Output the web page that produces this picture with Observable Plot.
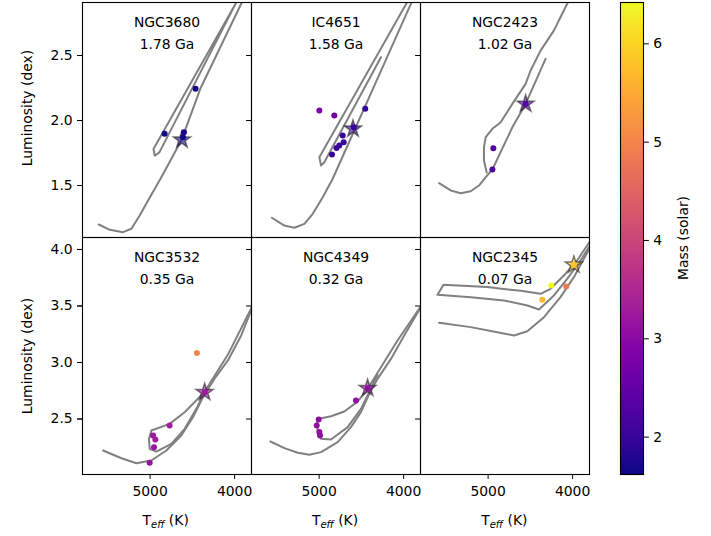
<!DOCTYPE html>
<html><head><meta charset="utf-8">
<script src="https://cdn.jsdelivr.net/npm/d3@7"></script>
<script src="https://cdn.jsdelivr.net/npm/@observablehq/plot@0.6"></script>
<style>
body{margin:0;background:#fff;}
#fig{position:relative;width:711px;height:536px;background:#fff;font-family:"DejaVu Sans",sans-serif;font-size:13.9px;color:#000;overflow:hidden}
.abs{position:absolute}
.ylab{position:absolute;white-space:nowrap;transform:translate(-50%,-50%) rotate(-90deg)}
.xlab{position:absolute;white-space:nowrap;transform:translate(-50%,-50%)}
</style></head><body>
<div id="fig">
 <div id="row1" class="abs" style="left:0;top:0"></div>
 <div id="row2" class="abs" style="left:0;top:237px"></div>
 <div id="cbar" class="abs" style="left:580px;top:0"></div>
</div>
<script>
// ---- categories ----
const clusters = ["NGC3680","IC4651","NGC2423","NGC3532","NGC4349","NGC2345"];
const ages = ["1.78 Ga","1.58 Ga","1.02 Ga","0.35 Ga","0.32 Ga","0.07 Ga"];

// ---- isochrone tracks (Teff K, log L) ----
const isoTeff_NGC3680 = [
  [5607,5478,5319,5221,5123,5024,4867,4631,4406,3922,3855],
  [3900,4960,4945,4890,3940]
];
const isoLum_NGC3680 = [
  [1.20,1.159,1.141,1.167,1.269,1.385,1.564,1.846,2.244,2.898,2.99],
  [3.0,1.78,1.73,1.755,2.96]
];
const isoTeff_IC4651 = [
  [5559,5411,5293,5174,5075,4957,4839,4700,4400,3914,3850],
  [3880,4997,4977,4938,4268]
];
const isoLum_IC4651 = [
  [1.252,1.192,1.175,1.205,1.282,1.41,1.552,1.754,2.19,2.898,2.99],
  [3.0,1.718,1.654,1.679,2.487]
];
const isoTeff_NGC2423 = [
  [5580,5442,5324,5206,5108,5028,4949,4713,4556,4320],
  [5017,5049,5049,5028,4949,4851,4713,4556,4497,4379,4222,4104,4064,3990]
];
const isoLum_NGC2423 = [
  [1.518,1.462,1.441,1.456,1.50,1.564,1.623,1.948,2.128,2.475],
  [1.60,1.692,1.795,1.872,1.936,1.987,2.128,2.282,2.385,2.538,2.692,2.846,2.898,3.0]
];
const isoTeff_NGC3532 = [
  [5556,5339,5162,4985,4808,4631,4493,4375,4237,4079,3922,3804,3760],
  [3790,4079,4355,4591,4769,4985,5013,5005,4926,4749,4591,4453,4355]
];
const isoLum_NGC3532 = [
  [2.221,2.153,2.109,2.133,2.221,2.354,2.516,2.693,2.856,3.018,3.239,3.46,3.55],
  [3.50,3.07,2.74,2.560,2.457,2.398,2.325,2.236,2.212,2.280,2.413,2.590,2.74]
];
const isoTeff_NGC4349 = [
  [5576,5410,5253,5115,4977,4780,4623,4505,4406,4308,4150,3993,3796,3760],
  [3776,4072,4328,4446,4552,4702,4859,4977,5024,5017,4977,4859,4662,4505,4308]
];
const isoLum_NGC4349 = [
  [2.301,2.242,2.201,2.183,2.207,2.295,2.428,2.561,2.723,2.855,3.032,3.239,3.49,3.54],
  [3.519,3.195,2.885,2.743,2.649,2.566,2.525,2.507,2.472,2.383,2.325,2.319,2.428,2.590,2.891]
];
const isoTeff_NGC2345 = [
  [5580,5206,4891,4694,4536,4339,4143,3985,3867,3769],
  [3749,3946,4103,4261,4379,4615,5009,5528,5599,5206,4812,4536,4398,4221,4064,3906,3769]
];
const isoLum_NGC2345 = [
  [3.351,3.313,3.268,3.239,3.277,3.401,3.578,3.755,3.917,4.05],
  [4.124,3.903,3.770,3.652,3.608,3.634,3.667,3.687,3.599,3.578,3.549,3.504,3.469,3.593,3.740,3.903,4.065]
];
const isoTeff = [isoTeff_NGC3680, isoTeff_IC4651, isoTeff_NGC2423, isoTeff_NGC3532, isoTeff_NGC4349, isoTeff_NGC2345];
const isoLum  = [isoLum_NGC3680, isoLum_IC4651, isoLum_NGC2423, isoLum_NGC3532, isoLum_NGC4349, isoLum_NGC2345];

// ---- cluster member giants ----
const starCluster = [
  "NGC3680","NGC3680","NGC3680","NGC3680",
  "IC4651","IC4651","IC4651","IC4651","IC4651","IC4651","IC4651","IC4651","IC4651",
  "NGC2423","NGC2423","NGC2423",
  "NGC3532","NGC3532","NGC3532","NGC3532","NGC3532","NGC3532","NGC3532",
  "NGC4349","NGC4349","NGC4349","NGC4349","NGC4349","NGC4349",
  "NGC2345","NGC2345","NGC2345","NGC2345"
];
const starTeff = [
  4462,4828,4599,4611,
  4997,4820,4454,4591,4721,4709,4761,4794,4847,
  4938,4949,4556,
  4446,4769,4965,4938,4954,5005,4355,
  4564,5005,5028,4997,4989,4426,
  4253,4359,4076,3985
];
const starLum = [
  2.244,1.898,1.91,1.872,
  2.077,2.038,2.09,1.948,1.885,1.833,1.808,1.788,1.738,
  1.787,1.623,2.128,
  3.085,2.443,2.354,2.319,2.251,2.112,2.737,
  2.664,2.496,2.443,2.384,2.354,2.773,
  3.681,3.555,3.673,3.864
];
const starMass = [
  1.68,1.65,1.7,1.66,
  2.75,2.65,1.95,2.0,1.98,2.02,1.96,2.0,1.97,
  2.3,2.32,2.3,
  5.0,3.3,3.25,3.3,3.2,3.15,3.25,
  3.1,3.05,3.1,3.1,3.05,3.1,
  6.42,5.7,4.85,5.85
];
// ---- highlighted (star-symbol) giant per cluster ----
const refTeff = [4623,4599,4556,4355,4426,3985];
const refLum  = [1.852,1.936,2.128,2.737,2.773,3.864];
const refMass = [1.7,2.0,2.3,3.25,3.1,5.85];

const massDomain = [1.62, 6.42];
const yTicksTop = [1.5,2.0,2.5];
const yTicksBottom = [2.5,3.0,3.5,4.0];
const xTicks = [5000,4000];
const cbarTicks = [2,3,4,5,6];

// ---- build tables ----
const trackRows = [];
clusters.forEach((c, ci) => {
  isoTeff[ci].forEach((seg, si) => {
    seg.forEach((t, i) => trackRows.push({cluster: c, seg: c + "-" + si, teff: t, lum: isoLum[ci][si][i]}));
  });
});
const starRows = starCluster.map((c, i) => ({cluster: c, teff: starTeff[i], lum: starLum[i], mass: starMass[i]}));
const refRows = clusters.map((c, i) => ({cluster: c, teff: refTeff[i], lum: refLum[i], mass: refMass[i]}));
const titleRows = clusters.map((c, i) => ({cluster: c, label: c + "\n" + ages[i]}));

const baseStyle = {fontFamily: "DejaVu Sans, sans-serif", fontSize: "13.9px", background: "transparent", overflow: "visible", color: "black", maxWidth: "none"};
const colorScale = {type: "linear", scheme: "plasma", domain: massDomain};

function rowPlot(names, yDomain, yTicks, showX, height, marginTop, marginBottom) {
  const inRow = d => names.includes(d.cluster);
  const marks = [
    Plot.line(trackRows.filter(inRow), {fx: "cluster", x: "teff", y: "lum", z: "seg", stroke: "#808080", strokeWidth: 2, clip: true}),
    Plot.dot(refRows.filter(inRow), {fx: "cluster", x: "teff", y: "lum", symbol: "star", r: 5.3, fill: "mass", fillOpacity: 0.6, stroke: "#222", strokeOpacity: 0.6, strokeWidth: 1.5}),
    Plot.dot(starRows.filter(inRow), {fx: "cluster", x: "teff", y: "lum", r: 3, fill: "mass"}),
    Plot.text(titleRows.filter(inRow), {fx: "cluster", text: "label", frameAnchor: "top", dy: 9, lineHeight: 1.58, fontSize: 13.9}),
    Plot.axisY({ticks: yTicks, tickSize: 4.9, tickPadding: 4.9, tickFormat: d3.format(".1f"), label: null}),
    Plot.axisY({ticks: yTicks, tickSize: 4.9, tickFormat: () => "", label: null, facetAnchor: null}),
    Plot.frame({stroke: "black", strokeWidth: 1.1})
  ];
  if (showX) marks.push(Plot.axisX({ticks: xTicks, tickSize: 4.9, tickPadding: 6.5, tickFormat: d3.format("d"), label: null}));
  return Plot.plot({
    width: 600, height, marginLeft: 81, marginRight: 11, marginTop, marginBottom,
    style: baseStyle,
    x: showX ? {domain: [5800, 3800]} : {domain: [5800, 3800], axis: null},
    y: {domain: yDomain},
    fx: {domain: names, padding: 0, axis: null},
    color: colorScale,
    marks
  });
}

document.getElementById("row1").append(
  rowPlot(clusters.slice(0, 3), [1.1, 2.908], yTicksTop, false, 237, 2, 0)
);
document.getElementById("row2").append(
  rowPlot(clusters.slice(3), [2.009, 4.106], yTicksBottom, true, 299, 0, 62)
);

// colorbar
const step = 0.02;
const cbarVals = d3.range(massDomain[0], massDomain[1] - 1e-9, step);
document.getElementById("cbar").append(Plot.plot({
  width: 131, height: 536, marginLeft: 40, marginRight: 68, marginTop: 2, marginBottom: 62,
  style: baseStyle,
  x: {domain: [0, 1], axis: null},
  y: {domain: massDomain},
  color: colorScale,
  marks: [
    Plot.rect(cbarVals, {x1: () => 0, x2: () => 1, y1: d => d, y2: d => Math.min(d + step + 0.004, massDomain[1]), fill: d => d + step / 2, shapeRendering: "crispEdges"}),
    Plot.frame({stroke: "black", strokeWidth: 1.1}),
    Plot.axisY({anchor: "right", ticks: cbarTicks, tickSize: 4.9, tickPadding: 4.9, tickFormat: d3.format("d"), label: null})
  ]
}));

// text labels
const fig = document.getElementById("fig");
function addLabel(cls, x, y, html) {
  const d = document.createElement("div");
  d.className = cls; d.style.left = x + "px"; d.style.top = y + "px"; d.innerHTML = html;
  fig.append(d);
}
addLabel("ylab", 27, 108, "Luminosity (dex)");
addLabel("ylab", 27, 355.5, "Luminosity (dex)");
addLabel("ylab", 683, 238, "Mass (solar)");
const teffHtml = 'T<span style="font-style:italic;font-size:72%;position:relative;top:0.3em">eff</span> (K)';
[165.7, 335, 504.3].forEach(x => addLabel("xlab", x, 520, teffHtml));
</script>
</body></html>
